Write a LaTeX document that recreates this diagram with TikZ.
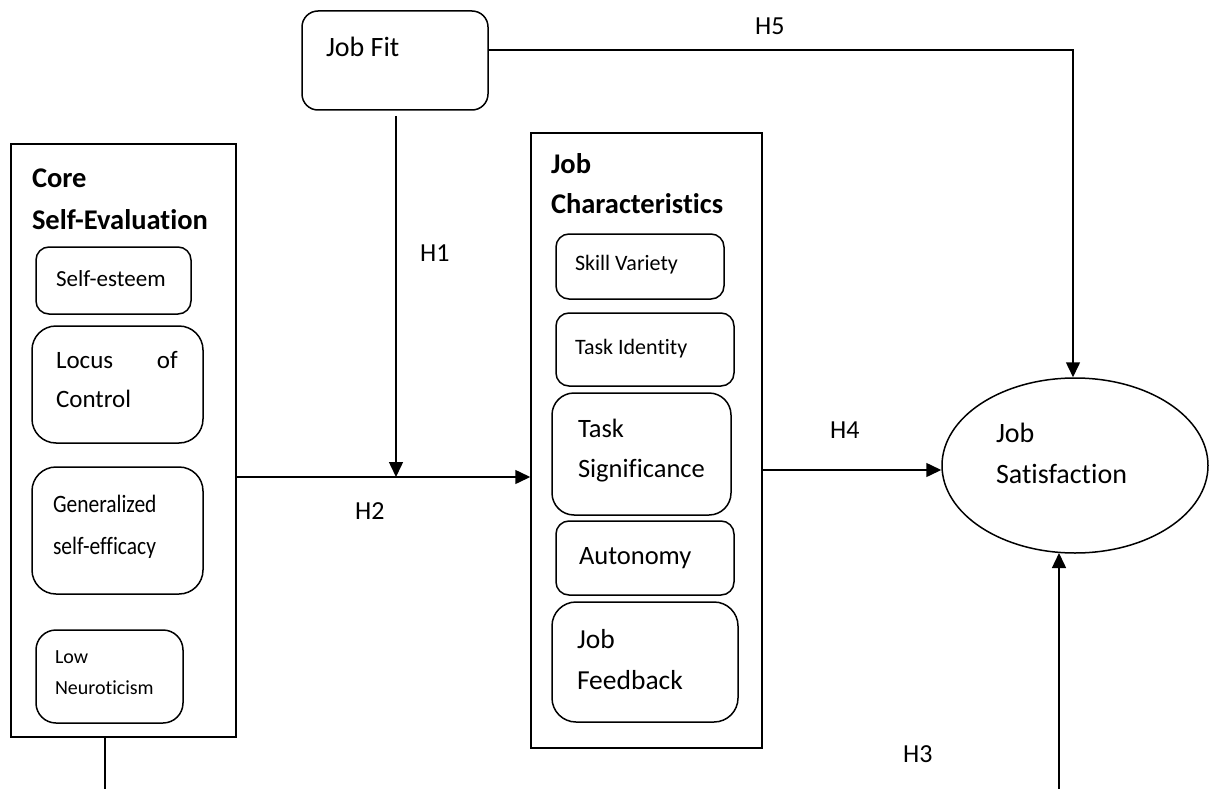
\documentclass[tikz,border=0pt]{standalone}
\usepackage{fontspec}
\setmainfont{Carlito}[Ligatures=CommonOff]
\usetikzlibrary{arrows.meta,calc,shapes.geometric}
\newcommand{\fs}[1]{\fontsize{#1}{#1}\selectfont}
\begin{document}
\begin{tikzpicture}[x=1pt,y=-1pt,
  frame/.style={draw,line width=1.5pt,rectangle,inner sep=0pt},
  rbox/.style={draw,line width=1.5pt,rectangle,rounded corners=#1,inner sep=0pt},
  rbox/.default=12pt,
  txt/.style={anchor=base west,inner sep=0pt,outer sep=0pt},
  conn/.style={line width=1.5pt},
  arr/.style={line width=1.5pt,-{Triangle[length=15pt,width=14pt]}},
  hlab/.style={anchor=base west,inner sep=0pt,font=\fs{26}}]
\useasboundingbox (0,0) rectangle (1210,789);

% ---------- Job Fit ----------
\node[rbox=16pt,minimum width=186pt,minimum height=99pt] (jobfit) at (395,60.5) {};
\node[txt,font=\fs{28}] (tjf) at (326,57) {Job Fit};

% ---------- Core Self-Evaluation ----------
\node[frame,minimum width=225pt,minimum height=593pt] (cse) at (123.5,440.5) {};
\node[txt,font=\bfseries\fs{28.5}] (tcse1) at (32,187) {Core};
\node[txt,font=\bfseries\fs{28.5}] (tcse2) at (32,229) {Self-Evaluation};

\node[rbox=13pt,minimum width=155pt,minimum height=67pt] (se) at (113.5,280.5) {};
\node[txt,font=\fs{23}] (tse) at (56,286) {Self-esteem};

\node[rbox=24pt,minimum width=171pt,minimum height=117pt] (loc) at (117.5,384.5) {};
\node[txt,font=\fs{25}] (tloc1) at (56,368) {Locus};
\node[anchor=base east,inner sep=0pt,font=\fs{25}] (tloc2) at (178,368) {of};
\node[txt,font=\fs{25}] (tloc3) at (56,407) {Control};

\node[rbox=24pt,minimum width=171pt,minimum height=127pt] (gse) at (117.5,530.5) {};
\node[txt,font=\fs{25}] (tgse1) at (53,512) {\scalebox{0.86}[1]{Generalized}};
\node[txt,font=\fs{25}] (tgse2) at (53,554) {\scalebox{0.86}[1]{self-efficacy}};

\node[rbox=20pt,minimum width=147pt,minimum height=93pt] (ln) at (109.5,676.5) {};
\node[txt,font=\fs{20}] (tln1) at (55,663) {Low};
\node[txt,font=\fs{20}] (tln2) at (55,694) {Neuroticism};

% ---------- Job Characteristics ----------
\node[frame,minimum width=231pt,minimum height=615pt] (jc) at (646.5,440.5) {};
\node[txt,font=\bfseries\fs{28.5}] (tjc1) at (551,173) {Job};
\node[txt,font=\bfseries\fs{28.5}] (tjc2) at (551,213) {Characteristics};

\node[rbox=13pt,minimum width=168pt,minimum height=65pt] (sv) at (640,266.5) {};
\node[txt,font=\fs{22}] (tsv) at (575,270) {Skill Variety};

\node[rbox=13pt,minimum width=178pt,minimum height=73pt] (ti) at (645,349.5) {};
\node[txt,font=\fs{22}] (tti) at (575,354) {Task Identity};

\node[rbox=22pt,minimum width=179pt,minimum height=122pt] (ts) at (641.5,454) {};
\node[txt,font=\fs{26.5}] (tts1) at (578,437) {Task};
\node[txt,font=\fs{26.5}] (tts2) at (578,477) {Significance};

\node[rbox=13pt,minimum width=178pt,minimum height=74pt] (au) at (645,558) {};
\node[txt,font=\fs{26.5}] (tau) at (579,564) {Autonomy};

\node[rbox=24pt,minimum width=186pt,minimum height=120pt] (jfb) at (645,662) {};
\node[txt,font=\fs{27.5}] (tjfb1) at (577,648) {Job};
\node[txt,font=\fs{27.5}] (tjfb2) at (577,689) {Feedback};

% ---------- Job Satisfaction ----------
\node[ellipse,draw,line width=1.5pt,inner sep=0pt,minimum width=266pt,minimum height=175pt] (js) at (1075,465.5) {};
\node[txt,font=\fs{28}] (tjs1) at (996,442) {Job};
\node[txt,font=\fs{28}] (tjs2) at (996,483) {Satisfaction};

% ---------- coordinates ----------
\coordinate (jfdown) at (396,116);
\coordinate (mid) at (396,477);
\coordinate (h5a) at (488,50);
\coordinate (h5b) at (1073,50);
\coordinate (csebot) at (105,737);
\coordinate (cseend) at (105,789);
\coordinate (h3start) at (1059,789);

% ---------- connectors ----------
\draw[arr] (jfdown) -- (mid);
\draw[arr] (cse.east |- mid) -- (jc.west |- mid);
\draw[arr] (jc.east |- 0,470) -- (js.west |- 0,470);
\draw[arr] (h5a) -- (h5b) -- (h5b |- js.north);
\draw[conn] (csebot) -- (cseend);
\draw[arr] (h3start) -- (h3start |- 0,553);

% ---------- labels ----------
\node[hlab] (h5) at (755,35) {H5};
\node[hlab] (h1) at (420,261) {H1};
\node[hlab] (h2) at (355,519) {H2};
\node[hlab] (h4) at (830,438) {H4};
\node[hlab] (h3) at (903,762) {H3};
\end{tikzpicture}
\end{document}
